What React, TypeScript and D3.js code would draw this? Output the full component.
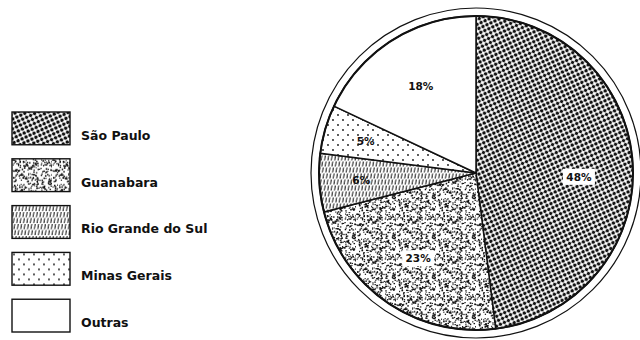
import React, { useEffect, useRef } from "react";
import * as d3 from "d3";

const states = ["São Paulo", "Guanabara", "Rio Grande do Sul", "Minas Gerais", "Outras"];
const shares = [48, 23, 6, 5, 18];
const patternIds = ["p-sp", "p-gb", "p-rs", "p-mg", "p-out"];

// deterministic jitter for stipple texture (not data)
function hash(i: number) {
  const s = Math.sin(i * 12.9898 + 78.233) * 43758.5453;
  return s - Math.floor(s);
}

export default function App() {
  const svgRef = useRef<SVGSVGElement>(null);

  useEffect(() => {
    document.body.style.margin = "0";
    const width = 640;
    const height = 340;
    const cx = 476;
    const cy = 173;
    const r = 157;

    const svg = d3.select(svgRef.current);
    svg.selectAll("*").remove();
    svg.attr("width", width).attr("height", height).style("background", "white");

    const defs = svg.append("defs");

    // São Paulo: dense dot grid
    const sp = defs.append("pattern")
      .attr("id", "p-sp")
      .attr("patternUnits", "userSpaceOnUse")
      .attr("width", 4.4).attr("height", 4.4)
      .attr("patternTransform", "rotate(-25)");
    sp.append("rect").attr("width", 4.4).attr("height", 4.4).attr("fill", "white");
    sp.append("circle").attr("cx", 2.2).attr("cy", 2.2).attr("r", 1.75).attr("fill", "#111");

    // Guanabara: random stipple
    const gbSize = 40;
    const gb = defs.append("pattern")
      .attr("id", "p-gb")
      .attr("patternUnits", "userSpaceOnUse")
      .attr("width", gbSize).attr("height", gbSize);
    gb.append("rect").attr("width", gbSize).attr("height", gbSize).attr("fill", "white");
    gb.selectAll("rect.d")
      .data(d3.range(300))
      .join("rect")
      .attr("class", "d")
      .attr("x", i => hash(i) * gbSize)
      .attr("y", i => hash(i + 1000) * gbSize)
      .attr("width", i => 0.9 + hash(i + 2000) * 0.9)
      .attr("height", i => 0.9 + hash(i + 3000) * 0.9)
      .attr("fill", "#111");

    // Rio Grande do Sul: short vertical dashes
    const rs = defs.append("pattern")
      .attr("id", "p-rs")
      .attr("patternUnits", "userSpaceOnUse")
      .attr("width", 3.4).attr("height", 12)
      .attr("patternTransform", "skewX(-10)");
    rs.append("rect").attr("width", 3.4).attr("height", 12).attr("fill", "white");
    rs.append("line").attr("x1", 1).attr("x2", 1).attr("y1", 0.5).attr("y2", 5.5)
      .attr("stroke", "#111").attr("stroke-width", 1);
    rs.append("line").attr("x1", 2.7).attr("x2", 2.7).attr("y1", 6.5).attr("y2", 11.5)
      .attr("stroke", "#111").attr("stroke-width", 1);

    // Minas Gerais: sparse dots
    const mg = defs.append("pattern")
      .attr("id", "p-mg")
      .attr("patternUnits", "userSpaceOnUse")
      .attr("width", 10).attr("height", 10);
    mg.append("rect").attr("width", 10).attr("height", 10).attr("fill", "white");
    mg.append("circle").attr("cx", 2).attr("cy", 2).attr("r", 0.9).attr("fill", "#111");
    mg.append("circle").attr("cx", 7).attr("cy", 7).attr("r", 0.9).attr("fill", "#111");

    // Outras: plain white
    defs.append("pattern")
      .attr("id", "p-out")
      .attr("patternUnits", "userSpaceOnUse")
      .attr("width", 4).attr("height", 4)
      .append("rect").attr("width", 4).attr("height", 4).attr("fill", "white");

    // legend
    const legendY = d3.scaleBand<string>()
      .domain(states)
      .range([112, 332])
      .paddingInner(0.3);

    const legend = svg.append("g").attr("font-family", "DejaVu Sans, sans-serif");
    const items = legend.selectAll("g")
      .data(states)
      .join("g")
      .attr("transform", d => `translate(12,${legendY(d)})`);
    items.append("rect")
      .attr("width", 58)
      .attr("height", legendY.bandwidth())
      .attr("fill", (d, i) => `url(#${patternIds[i]})`)
      .attr("stroke", "#111")
      .attr("stroke-width", 1.4);
    items.append("text")
      .attr("x", 69)
      .attr("y", legendY.bandwidth() - 5)
      .attr("font-size", 12.5)
      .attr("font-weight", "bold")
      .attr("fill", "#111")
      .text(d => d);

    // pie
    const g = svg.append("g").attr("transform", `translate(${cx},${cy})`);

    g.append("circle")
      .attr("r", r + 8)
      .attr("fill", "none")
      .attr("stroke", "#111")
      .attr("stroke-width", 1.2);

    const pie = d3.pie<number>().sort(null).value(d => d);
    const arcs = pie(shares);
    const arc = d3.arc<d3.PieArcDatum<number>>().innerRadius(0).outerRadius(r);

    g.selectAll("path")
      .data(arcs)
      .join("path")
      .attr("d", arc)
      .attr("fill", (d, i) => `url(#${patternIds[i]})`)
      .attr("stroke", "#111")
      .attr("stroke-width", 1.5)
      .attr("stroke-linejoin", "round");

    g.append("circle")
      .attr("r", r)
      .attr("fill", "none")
      .attr("stroke", "#111")
      .attr("stroke-width", 2);

    const labelArc = (d: d3.PieArcDatum<number>) => {
      const lr = d.value < 10 ? 115 : 103;
      const shift = d.value > 40 ? 0.1 : 0;
      const a = (d.startAngle + d.endAngle) / 2 + shift;
      return [lr * Math.sin(a), -lr * Math.cos(a)];
    };

    const labels = g.selectAll("g.lbl")
      .data(arcs)
      .join("g")
      .attr("class", "lbl")
      .attr("transform", d => `translate(${labelArc(d)})`);
    labels.append("rect")
      .attr("x", -16).attr("y", -8)
      .attr("width", 32).attr("height", 16)
      .attr("fill", (d, i) => (i < 2 ? "white" : "none"));
    labels.append("text")
      .attr("text-anchor", "middle")
      .attr("dy", "0.35em")
      .attr("font-family", "DejaVu Sans, sans-serif")
      .attr("font-size", 10.5)
      .attr("font-weight", "bold")
      .attr("fill", "#111")
      .text(d => `${d.value}%`);
  }, []);

  return <svg ref={svgRef} />;
}
